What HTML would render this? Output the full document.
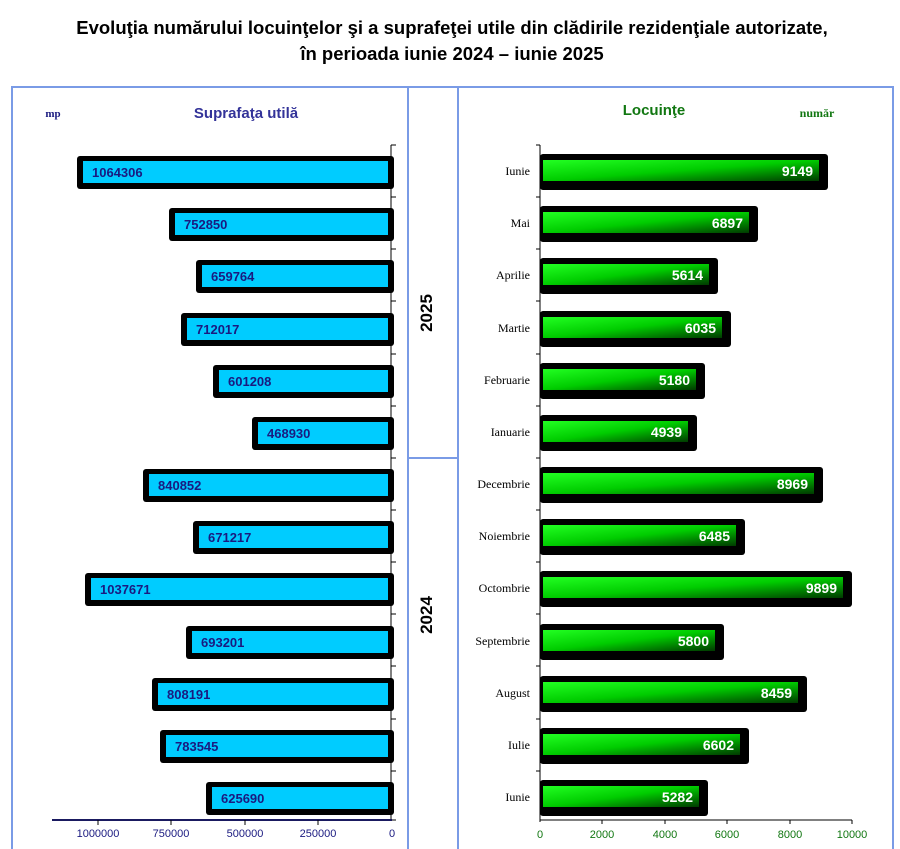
<!DOCTYPE html>
<html><head><meta charset="utf-8"><style>
body{margin:0;background:#fff;}
svg{display:block;}
.lv{font-family:"Liberation Sans",sans-serif;font-weight:bold;font-size:13px;fill:#1a1a80;}
.rv{font-family:"Liberation Sans",sans-serif;font-weight:bold;font-size:14px;fill:#fff;text-anchor:end;}
.cat{font-family:"Liberation Serif",serif;font-size:12px;fill:#000;text-anchor:end;}
</style></head><body>
<svg width="900" height="849" xmlns="http://www.w3.org/2000/svg">
<defs>
<linearGradient id="g" x1="0" y1="0" x2="1" y2="1">
<stop offset="0" stop-color="#22ff22"/>
<stop offset="0.5" stop-color="#00cc00"/>
<stop offset="1" stop-color="#003a00"/>
</linearGradient>
</defs>
<g font-family="Liberation Sans, sans-serif" font-weight="bold" font-size="18.5" text-anchor="middle" fill="#000">
<text x="452" y="34">Evoluţia numărului locuinţelor şi a suprafeţei utile din clădirile rezidenţiale autorizate,</text>
<text x="452" y="60">în perioada iunie 2024 – iunie 2025</text>
</g>
<g fill="none" stroke="#7a9be6" stroke-width="2">
<rect x="12" y="87" width="881" height="770"/>
<line x1="408" y1="87" x2="408" y2="849"/>
<line x1="458" y1="87" x2="458" y2="849"/>
<line x1="408" y1="458" x2="458" y2="458"/>
</g>
<text x="432" y="313" transform="rotate(-90 432 313)" font-family="Liberation Sans, sans-serif" font-weight="bold" font-size="17" text-anchor="middle">2025</text>
<text x="432" y="615" transform="rotate(-90 432 615)" font-family="Liberation Sans, sans-serif" font-weight="bold" font-size="17" text-anchor="middle">2024</text>
<text x="53" y="117" font-family="Liberation Serif, serif" font-weight="bold" font-size="11" fill="#1a1a80" text-anchor="middle">mp</text>
<text x="246" y="118" font-family="Liberation Sans, sans-serif" font-weight="bold" font-size="15" fill="#333399" text-anchor="middle">Suprafaţa utilă</text>
<text x="654" y="115" font-family="Liberation Sans, sans-serif" font-weight="bold" font-size="15" fill="#117711" text-anchor="middle">Locuinţe</text>
<text x="817" y="117" font-family="Liberation Serif, serif" font-weight="bold" font-size="12" fill="#117711" text-anchor="middle">număr</text>
<g stroke="#000" stroke-width="1">
<line x1="391" y1="145" x2="391" y2="820"/>
<line x1="391" y1="145" x2="396" y2="145"/>
<line x1="391" y1="197" x2="396" y2="197"/><line x1="391" y1="249" x2="396" y2="249"/>
<line x1="391" y1="301" x2="396" y2="301"/><line x1="391" y1="354" x2="396" y2="354"/>
<line x1="391" y1="406" x2="396" y2="406"/><line x1="391" y1="458" x2="396" y2="458"/>
<line x1="391" y1="510" x2="396" y2="510"/><line x1="391" y1="562" x2="396" y2="562"/>
<line x1="391" y1="614" x2="396" y2="614"/><line x1="391" y1="666" x2="396" y2="666"/>
<line x1="391" y1="719" x2="396" y2="719"/><line x1="391" y1="771" x2="396" y2="771"/>
<line x1="391" y1="820" x2="396" y2="820"/>
</g>
<line x1="52" y1="820" x2="392" y2="820" stroke="#1a1a60" stroke-width="2"/>
<g stroke="#000"><line x1="98" y1="820" x2="98" y2="825"/><line x1="245" y1="820" x2="245" y2="825"/><line x1="171" y1="820" x2="171" y2="825"/><line x1="318" y1="820" x2="318" y2="825"/></g>
<g font-family="Liberation Sans, sans-serif" font-size="11" fill="#1a1a80" text-anchor="middle">
<text x="98" y="837">1000000</text><text x="171" y="837">750000</text><text x="245" y="837">500000</text><text x="318" y="837">250000</text><text x="392" y="837">0</text>
</g>
<g stroke="#000" stroke-width="1">
<line x1="540" y1="145" x2="540" y2="822"/>
<line x1="536" y1="145" x2="540" y2="145"/>
<line x1="536" y1="197" x2="540" y2="197"/><line x1="536" y1="249" x2="540" y2="249"/>
<line x1="536" y1="301" x2="540" y2="301"/><line x1="536" y1="354" x2="540" y2="354"/>
<line x1="536" y1="406" x2="540" y2="406"/><line x1="536" y1="458" x2="540" y2="458"/>
<line x1="536" y1="510" x2="540" y2="510"/><line x1="536" y1="562" x2="540" y2="562"/>
<line x1="536" y1="614" x2="540" y2="614"/><line x1="536" y1="666" x2="540" y2="666"/>
<line x1="536" y1="719" x2="540" y2="719"/><line x1="536" y1="771" x2="540" y2="771"/>
<line x1="540" y1="820" x2="852" y2="820"/>
<line x1="602" y1="820" x2="602" y2="824"/><line x1="665" y1="820" x2="665" y2="824"/><line x1="727" y1="820" x2="727" y2="824"/><line x1="790" y1="820" x2="790" y2="824"/><line x1="852" y1="820" x2="852" y2="824"/>
</g>
<g font-family="Liberation Sans, sans-serif" font-size="11" fill="#117711" text-anchor="middle">
<text x="540" y="838">0</text><text x="602" y="838">2000</text><text x="665" y="838">4000</text><text x="727" y="838">6000</text><text x="790" y="838">8000</text><text x="852" y="838">10000</text>
</g>

<g>
<rect x="77" y="156" width="317" height="33" rx="3"/><rect x="83" y="161" width="305" height="22" fill="#00ccff"/><text class="lv" x="92" y="177">1064306</text>
<rect x="169" y="208" width="225" height="33" rx="3"/><rect x="175" y="213" width="213" height="22" fill="#00ccff"/><text class="lv" x="184" y="229">752850</text>
<rect x="196" y="260" width="198" height="33" rx="3"/><rect x="202" y="265" width="186" height="22" fill="#00ccff"/><text class="lv" x="211" y="281">659764</text>
<rect x="181" y="313" width="213" height="33" rx="3"/><rect x="187" y="318" width="201" height="22" fill="#00ccff"/><text class="lv" x="196" y="334">712017</text>
<rect x="213" y="365" width="181" height="33" rx="3"/><rect x="219" y="370" width="169" height="22" fill="#00ccff"/><text class="lv" x="228" y="386">601208</text>
<rect x="252" y="417" width="142" height="33" rx="3"/><rect x="258" y="422" width="130" height="22" fill="#00ccff"/><text class="lv" x="267" y="438">468930</text>
<rect x="143" y="469" width="251" height="33" rx="3"/><rect x="149" y="474" width="239" height="22" fill="#00ccff"/><text class="lv" x="158" y="490">840852</text>
<rect x="193" y="521" width="201" height="33" rx="3"/><rect x="199" y="526" width="189" height="22" fill="#00ccff"/><text class="lv" x="208" y="542">671217</text>
<rect x="85" y="573" width="309" height="33" rx="3"/><rect x="91" y="578" width="297" height="22" fill="#00ccff"/><text class="lv" x="100" y="594">1037671</text>
<rect x="186" y="626" width="208" height="33" rx="3"/><rect x="192" y="631" width="196" height="22" fill="#00ccff"/><text class="lv" x="201" y="647">693201</text>
<rect x="152" y="678" width="242" height="33" rx="3"/><rect x="158" y="683" width="230" height="22" fill="#00ccff"/><text class="lv" x="167" y="699">808191</text>
<rect x="160" y="730" width="234" height="33" rx="3"/><rect x="166" y="735" width="222" height="22" fill="#00ccff"/><text class="lv" x="175" y="751">783545</text>
<rect x="206" y="782" width="188" height="33" rx="3"/><rect x="212" y="787" width="176" height="22" fill="#00ccff"/><text class="lv" x="221" y="803">625690</text>
</g>

<g>
<rect x="540" y="154" width="288" height="36" rx="3"/><rect x="543" y="160" width="276" height="21" fill="url(#g)"/><text class="rv" x="813" y="176">9149</text><text class="cat" x="530" y="175">Iunie</text>
<rect x="540" y="206" width="218" height="36" rx="3"/><rect x="543" y="212" width="206" height="21" fill="url(#g)"/><text class="rv" x="743" y="228">6897</text><text class="cat" x="530" y="227">Mai</text>
<rect x="540" y="258" width="178" height="36" rx="3"/><rect x="543" y="264" width="166" height="21" fill="url(#g)"/><text class="rv" x="703" y="280">5614</text><text class="cat" x="530" y="279">Aprilie</text>
<rect x="540" y="311" width="191" height="36" rx="3"/><rect x="543" y="317" width="179" height="21" fill="url(#g)"/><text class="rv" x="716" y="333">6035</text><text class="cat" x="530" y="332">Martie</text>
<rect x="540" y="363" width="165" height="36" rx="3"/><rect x="543" y="369" width="153" height="21" fill="url(#g)"/><text class="rv" x="690" y="385">5180</text><text class="cat" x="530" y="384">Februarie</text>
<rect x="540" y="415" width="157" height="36" rx="3"/><rect x="543" y="421" width="145" height="21" fill="url(#g)"/><text class="rv" x="682" y="437">4939</text><text class="cat" x="530" y="436">Ianuarie</text>
<rect x="540" y="467" width="283" height="36" rx="3"/><rect x="543" y="473" width="271" height="21" fill="url(#g)"/><text class="rv" x="808" y="489">8969</text><text class="cat" x="530" y="488">Decembrie</text>
<rect x="540" y="519" width="205" height="36" rx="3"/><rect x="543" y="525" width="193" height="21" fill="url(#g)"/><text class="rv" x="730" y="541">6485</text><text class="cat" x="530" y="540">Noiembrie</text>
<rect x="540" y="571" width="312" height="36" rx="3"/><rect x="543" y="577" width="300" height="21" fill="url(#g)"/><text class="rv" x="837" y="593">9899</text><text class="cat" x="530" y="592">Octombrie</text>
<rect x="540" y="624" width="184" height="36" rx="3"/><rect x="543" y="630" width="172" height="21" fill="url(#g)"/><text class="rv" x="709" y="646">5800</text><text class="cat" x="530" y="645">Septembrie</text>
<rect x="540" y="676" width="267" height="36" rx="3"/><rect x="543" y="682" width="255" height="21" fill="url(#g)"/><text class="rv" x="792" y="698">8459</text><text class="cat" x="530" y="697">August</text>
<rect x="540" y="728" width="209" height="36" rx="3"/><rect x="543" y="734" width="197" height="21" fill="url(#g)"/><text class="rv" x="734" y="750">6602</text><text class="cat" x="530" y="749">Iulie</text>
<rect x="540" y="780" width="168" height="36" rx="3"/><rect x="543" y="786" width="156" height="21" fill="url(#g)"/><text class="rv" x="693" y="802">5282</text><text class="cat" x="530" y="801">Iunie</text>
</g>
</svg>
</body></html>
